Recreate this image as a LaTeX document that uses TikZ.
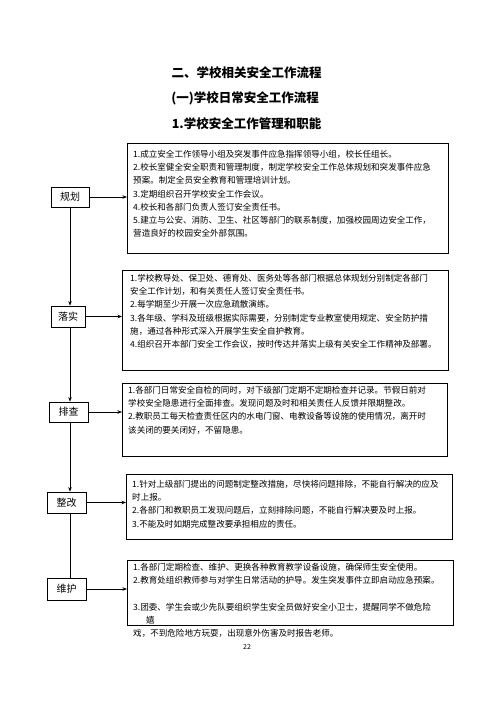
\documentclass[tikz,border=0pt]{standalone}
\usepackage{fontspec}
\setmainfont{Noto Sans CJK SC}
\usetikzlibrary{positioning,arrows.meta}

\begin{document}
\begin{tikzpicture}[x=1pt, y=-1pt, >={Stealth[length=4.5pt,width=3.5pt]},
  title/.style={font=\fontsize{12.5}{15}\selectfont\bfseries},
  stage/.style={draw, line width=0.8pt, minimum width=38pt, minimum height=20pt, inner sep=0pt, font=\fontsize{10}{12}\selectfont},
  infobox/.style={draw, line width=0.8pt, anchor=north west, inner sep=0pt},
  infotext/.style={align=left, inner sep=0pt, font=\fontsize{8.55}{13.2}\selectfont},
  link/.style={->, line width=0.6pt}]
  \useasboundingbox (0,0) rectangle (496,702);

  % headings
  \node[title] (head) at (246.5,73) {二、学校相关安全工作流程};
  \node[title] (subhead) at (245,98) {(一)学校日常安全工作流程};
  \node[title] (topic) at (246.5,124) {1.学校安全工作管理和职能};

  % stages on the left
  \node[stage] (plan) at (70,197) {规划};
  \node[stage, minimum width=34pt, minimum height=21pt] (impl) at (68,316.5) {落实};
  \node[stage, minimum width=39pt] (check) at (68.5,412) {排查};
  \node[stage, minimum width=39pt, minimum height=21pt] (fix) at (66.5,502.5) {整改};
  \node[stage, minimum width=39pt, minimum height=22pt] (keep) at (66.5,589) {维护};

  % boxes with the duties
  \node[infobox, minimum width=321pt, minimum height=110pt] (planbox) at (127,143) {};
  \node[infobox, minimum width=326pt, minimum height=100pt] (implbox) at (122,270) {};
  \node[infobox, minimum width=325pt, minimum height=73pt] (checkbox) at (122,383) {};
  \node[infobox, minimum width=326pt, minimum height=65pt] (fixbox) at (126,474) {};
  \node[infobox, minimum width=326pt, minimum height=65pt] (keepbox) at (127,560) {};

  \node[infotext, below right=7pt and 6pt of planbox.north west] (plantext) {%
    1.成立安全工作领导小组及突发事件应急指挥领导小组，校长任组长。\\
    2.校长室健全安全职责和管理制度，制定学校安全工作总体规划和突发事件应急\\
    预案。制定全员安全教育和管理培训计划。\\
    3.定期组织召开学校安全工作会议。\\
    4.校长和各部门负责人签订安全责任书。\\
    5.建立与公安、消防、卫生、社区等部门的联系制度，加强校园周边安全工作，\\
    营造良好的校园安全外部氛围。};
  \node[infotext, below right=4pt and 8pt of implbox.north west] (impltext) {%
    1.学校教导处、保卫处、德育处、医务处等各部门根据总体规划分别制定各部门\\
    安全工作计划，和有关责任人签订安全责任书。\\
    2.每学期至少开展一次应急疏散演练。\\
    3.各年级、学科及班级根据实际需要，分别制定专业教室使用规定、安全防护措\\
    施，通过各种形式深入开展学生安全自护教育。\\
    4.组织召开本部门安全工作会议，按时传达并落实上级有关安全工作精神及部署。};
  \node[infotext, below right=3pt and 6pt of checkbox.north west] (checktext) {%
    1.各部门日常安全自检的同时，对下级部门定期不定期检查并记录。节假日前对\\
    学校安全隐患进行全面排查。发现问题及时和相关责任人反馈并限期整改。\\
    2.教职员工每天检查责任区内的水电门窗、电教设备等设施的使用情况，离开时\\
    该关闭的要关闭好，不留隐患。};
  \node[infotext, below right=6pt and 6pt of fixbox.north west] (fixtext) {%
    1.针对上级部门提出的问题制定整改措施，尽快将问题排除，不能自行解决的应及\\
    时上报。\\
    2.各部门和教职员工发现问题后，立刻排除问题，不能自行解决要及时上报。\\
    3.不能及时如期完成整改要承担相应的责任。};
  \node[infotext, below right=3pt and 6pt of keepbox.north west] (keeptext) {%
    1.各部门定期检查、维护、更换各种教育教学设备设施，确保师生安全使用。\\
    2.教育处组织教师参与对学生日常活动的护导。发生突发事件立即启动应急预案。\\[13.2pt]
    3.团委、学生会或少先队要组织学生安全员做好安全小卫士，提醒同学不做危险\\
    \hspace*{13pt}嬉\\
    戏，不到危险地方玩耍，出现意外伤害及时报告老师。};

  \node[font=\fontsize{7}{8}\selectfont] (page) at (247,647) {22};

  % connectors
  \draw[link] (plan.east) -- (plan.east -| planbox.west);
  \draw[link] (impl.east) -- (impl.east -| implbox.west);
  \draw[link] (check.east) -- (check.east -| checkbox.west);
  \draw[link] (fix.east) -- (fix.east -| fixbox.west);
  \draw[link] (keep.east) -- (keep.east -| keepbox.west);

  \draw[link] (plan.south) -- (plan.south |- impl.north);
  \draw[link] (plan.south |- impl.south) -- (plan.south |- check.north);
  \draw[link] (plan.south |- check.south) -- (plan.south |- fix.north);
  \draw[line width=0.6pt] (plan.south |- fix.south) -- (plan.south |- keep.north);
\end{tikzpicture}
\end{document}
